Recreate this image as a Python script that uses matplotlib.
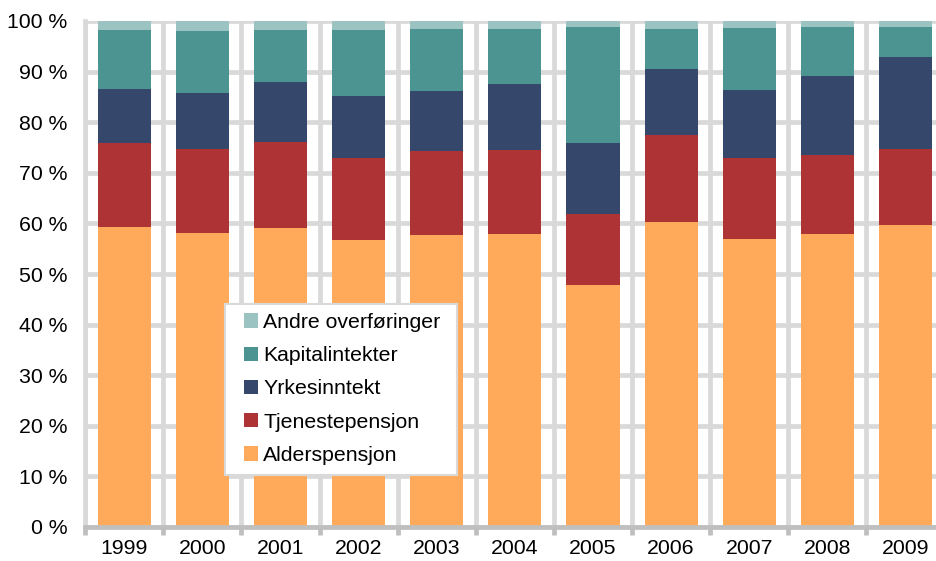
import matplotlib
matplotlib.use("Agg")
import matplotlib.pyplot as plt
from matplotlib.patches import Rectangle
import numpy as np

plt.rcParams['font.family'] = ['Liberation Sans', 'DejaVu Sans']

years = ["1999", "2000", "2001", "2002", "2003", "2004", "2005", "2006", "2007", "2008", "2009"]
alderspensjon = [59.3, 58.2, 59.0, 56.7, 57.8, 57.9, 47.8, 60.3, 56.9, 57.9, 59.7]
tjenestepensjon = [16.5, 16.5, 17.0, 16.3, 16.5, 16.7, 14.1, 17.2, 16.0, 15.6, 15.0]
yrkesinntekt = [10.7, 11.1, 11.9, 12.2, 11.8, 13.0, 13.9, 13.1, 13.5, 15.6, 18.2]
kapitalintekter = [11.7, 12.3, 10.3, 13.1, 12.4, 10.9, 23.1, 7.9, 12.2, 9.7, 6.0]
andre = [1.8, 1.9, 1.8, 1.7, 1.5, 1.5, 1.1, 1.5, 1.4, 1.2, 1.1]

series = [
    ("Alderspensjon", alderspensjon, "#FFAA5B"),
    ("Tjenestepensjon", tjenestepensjon, "#AE3334"),
    ("Yrkesinntekt", yrkesinntekt, "#35486C"),
    ("Kapitalintekter", kapitalintekter, "#4C9491"),
    ("Andre overføringer", andre, "#9BC3C2"),
]

FS = 15.3
W, H = 937, 561
fig = plt.figure(figsize=(W / 100, H / 100), dpi=100)
left, right, top, bottom = 85.2, 944.5, 21, 527
ax = fig.add_axes([left / W, 1 - bottom / H, (right - left) / W, (bottom - top) / H])

x = np.arange(len(years))
base = np.zeros(len(years))
handles = []
for name, vals, col in series:
    b = ax.bar(x, vals, width=0.68, bottom=base, color=col, label=name, zorder=3)
    handles.append(b)
    base += np.array(vals)

ax.set_xlim(-0.5, len(years) - 0.5)
ax.set_ylim(0, 100)
ax.set_yticks(np.arange(0, 101, 10))
ax.set_yticklabels([f"{v} %" for v in range(0, 101, 10)])
ax.set_xticks(x)
ax.set_xticklabels(years)
ax.set_xticks(np.arange(-0.5, len(years), 1.0), minor=True)

ax.set_axisbelow(True)
ax.grid(axis='y', which='major', color='#d9d9d9', linewidth=3.4)
ax.grid(axis='x', which='minor', color='#d9d9d9', linewidth=3.4)
ax.grid(axis='x', which='major', visible=False)

for s in ['top', 'right']:
    ax.spines[s].set_visible(False)
ax.spines['left'].set_color('#d9d9d9')
ax.spines['left'].set_linewidth(3.4)
ax.spines['bottom'].set_color('#bfbfbf')
ax.spines['bottom'].set_linewidth(3.4)
ax.spines['bottom'].set_zorder(4)

ax.tick_params(axis='y', which='major', length=0, labelsize=FS, pad=13, labelcolor='#000000')
ax.tick_params(axis='x', which='major', length=0, labelsize=FS, pad=9)
ax.tick_params(axis='x', which='minor', length=6, width=3.4, color='#bfbfbf', direction='out')

# legend box
def axx(px):
    return (px - left) / (right - left)
def axy(py):
    return (bottom - py) / (bottom - top)

box = Rectangle((axx(225), axy(475)), axx(457) - axx(225), axy(304) - axy(475),
                transform=ax.transAxes, facecolor='white', edgecolor='#d9d9d9',
                linewidth=1.5, zorder=5)
ax.add_patch(box)

leg = ax.legend(handles=handles[::-1], labels=[s[0] for s in series][::-1],
                loc='upper left', bbox_to_anchor=(axx(244), axy(313)), borderaxespad=0,
                fontsize=FS, frameon=False,
                handlelength=0.66, handleheight=0.66, handletextpad=0.25,
                labelspacing=0.67, borderpad=0)
leg.set_zorder(6)

fig.savefig("out.png", dpi=100)
